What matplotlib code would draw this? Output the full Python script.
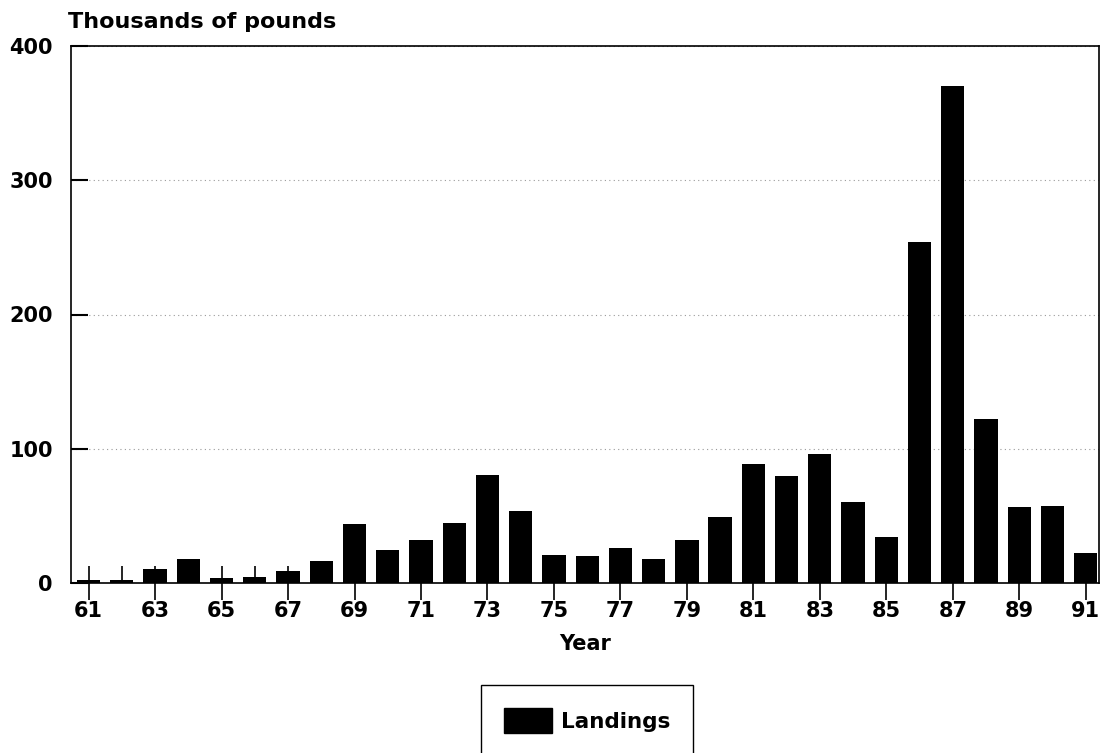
import matplotlib
matplotlib.use("Agg")
import matplotlib.pyplot as plt
from matplotlib.patches import Patch
from matplotlib.ticker import FixedLocator

years = list(range(61, 92))
landings = [2.4, 2.4, 10.7, 17.6, 3.4, 4.4, 8.8, 16.6, 43.9, 24.9,
            32.2, 44.9, 80.5, 53.4, 20.7, 20.0, 25.9, 17.6, 32.2, 48.8,
            89.0, 79.5, 96.4, 60.5, 34.5, 254.0, 370.0, 122.0, 56.8, 57.0, 22.5]
major_ticks = list(range(61, 92, 2))
minor_ticks = list(range(62, 92, 2))
y_ticks = [0, 100, 200, 300, 400]

plt.rcParams['font.family'] = ['DejaVu Sans']
plt.rcParams['font.weight'] = 'bold'

fig = plt.figure(figsize=(11.07, 7.53), dpi=100)
ax = fig.add_axes([71/1107, 1 - 583/753, (1099 - 71)/1107, (583 - 46)/753])

ax.bar(years, landings, width=0.7, color='black', zorder=3)

ax.set_xlim(60.47, 91.4)
ax.set_ylim(0, 400)
ax.xaxis.set_major_locator(FixedLocator(major_ticks))
ax.xaxis.set_minor_locator(FixedLocator(minor_ticks))
ax.set_yticks(y_ticks)
ax.set_xticklabels([str(y) for y in major_ticks])

ax.tick_params(axis='x', which='major', direction='inout', length=24, width=1.2,
               labelsize=15, pad=1)
ax.tick_params(axis='x', which='minor', direction='in', length=12, width=1.2)
ax.tick_params(axis='y', which='major', direction='in', length=12, width=1.5,
               labelsize=15, pad=13)

for lab in ax.get_xticklabels() + ax.get_yticklabels():
    lab.set_fontweight('bold')

ax.yaxis.grid(True, linestyle=(0, (1, 3)), color='#999999', linewidth=0.8, zorder=0)
ax.set_axisbelow(True)

for s in ax.spines.values():
    s.set_linewidth(1.2)
    s.set_color('black')

ax.set_xlabel('Year', fontsize=15, fontweight='bold', labelpad=9)
fig.text(68/1107, 1 - 22/753, 'Thousands of pounds', fontsize=16, fontweight='bold',
         ha='left', va='center')

handle = Patch(facecolor='black', edgecolor='black')
leg = fig.legend([handle], ['Landings'], loc='upper left',
                 bbox_to_anchor=(481/1107, 1 - 685/753),
                 prop={'size': 15.5, 'weight': 'bold'},
                 fancybox=False, edgecolor='black', framealpha=1,
                 handlelength=2.25, handleheight=1.45, handletextpad=0.4,
                 borderpad=1.05, borderaxespad=0)
leg.get_frame().set_linewidth(1.0)

fig.savefig('out.png', dpi=100)
